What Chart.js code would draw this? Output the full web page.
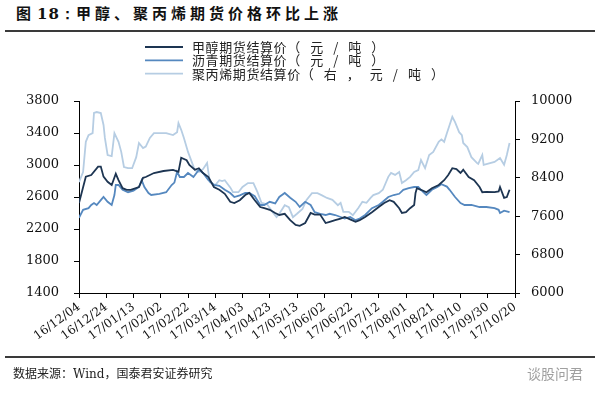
<!DOCTYPE html>
<html>
<head>
<meta charset="utf-8">
<script src="https://cdn.jsdelivr.net/npm/chart.js@4.4.0/dist/chart.umd.min.js"></script>
<style>
  html, body { margin: 0; padding: 0; background: #fff; }
  #wrap { position: relative; width: 600px; height: 396px; overflow: hidden; }
  #c { position: absolute; left: 0; top: 0; }
  .title { position: absolute; left: 16px; top: 2px; font-family: "Noto Sans CJK SC"; font-weight: bold; font-size: 15px; color: #111; white-space: nowrap; }
  .title .cn { letter-spacing: 4px; }
  .title .num { font-family: "DejaVu Serif"; letter-spacing: 1px; margin-left: 6px; }
  .rule { position: absolute; left: 5px; width: 590px; border-top: 2px solid #3a3a3a; }
  .src { position: absolute; left: 13px; top: 364px; font: 12px "Noto Sans CJK SC"; color: #222; white-space: nowrap; }
  .src .en { font-family: "DejaVu Serif"; }
  .mark { position: absolute; left: 527px; top: 363px; font: 14px "Noto Sans CJK SC"; color: #a0a0a0; }
</style>
</head>
<body>
<div id="wrap">
  <div class="title">图<span class="num">18：</span><span class="cn">甲醇、聚丙烯期货价格环比上涨</span></div>
  <div class="rule" style="top:30px"></div>
  <canvas id="c" width="600" height="396"></canvas>
  <div class="rule" style="top:356px"></div>
  <div class="src">数据来源：<span class="en">Wind</span>，国泰君安证券研究</div>
  <div class="mark">谈股问君</div>
</div>
<script>
// x = days since 16/12/04
const xTickLabels = ['16/12/04','16/12/24','17/01/13','17/02/02','17/02/22','17/03/14','17/04/03','17/04/23',
  '17/05/13','17/06/02','17/06/22','17/07/12','17/08/01','17/08/21','17/09/10','17/09/30','17/10/20'];

const seriesNames = ['甲醇期货结算价（元/吨）', '沥青期货结算价（元/吨）', '聚丙烯期货结算价（右，元/吨）'];

// 甲醇 (left axis)
const methDays = [0,5,9,14,16,18,21,24,27,29,32,35,38,44,47,49,55,62,69,73,75,79,81,85,88,91,95,99,103,107,
  111,114,118,122,125,129,133,136,140,144,147,151,155,159,162,166,170,173,177,181,184,188,192,195,199,203,206,210,215,220,
  224,228,231,235,237,240,243,246,247,248,251,255,259,264,268,271,274,277,280,282,286,290,294,296,299,305,308,309,312,314,316];
const methVals = [2525,2854,2875,2980,2980,2854,2790,2750,2890,2810,2710,2690,2690,2725,2840,2850,2900,2925,2940,2915,
  3090,3060,3000,2940,2960,2900,2850,2725,2690,2640,2540,2525,2560,2625,2650,2560,2475,2460,2440,2400,
  2375,2390,2310,2250,2240,2275,2400,2380,2380,2275,2290,2310,2330,2350,2320,2290,2310,2350,2410,2475,
  2525,2560,2540,2460,2400,2410,2460,2500,2650,2710,2690,2660,2710,2750,2810,2875,2960,2950,2900,2940,
  2850,2810,2725,2660,2665,2660,2670,2725,2590,2600,2690];

// 沥青 (left axis)
const bitDays = [0,3,7,9,11,13,16,18,21,24,26,27,29,32,36,40,44,46,48,51,53,59,64,68,70,72,74,77,80,84,
  88,91,95,99,103,107,111,114,118,122,125,129,133,136,140,144,147,151,155,159,162,166,170,173,177,181,184,188,192,195,
  199,203,206,210,215,220,223,227,231,235,238,242,246,249,251,255,259,263,266,270,272,276,280,283,288,294,299,305,308,309,312,316];
const bitVals = [2340,2440,2460,2500,2525,2500,2560,2600,2540,2500,2625,2750,2750,2690,2660,2680,2725,2810,2725,2650,
  2625,2640,2660,2750,2780,2915,2850,2850,2900,2850,2940,2900,2810,2750,2740,2690,2650,2600,2620,2650,
  2650,2610,2500,2500,2540,2520,2600,2650,2590,2540,2475,2540,2500,2410,2390,2375,2390,2375,2350,2330,
  2350,2310,2330,2375,2460,2500,2540,2600,2625,2640,2690,2710,2725,2725,2690,2625,2690,2725,2760,2730,
  2690,2600,2525,2500,2500,2475,2475,2460,2440,2400,2430,2410];

// 聚丙烯 (right axis)
const ppDays = [0,3,5,7,10,11,13,16,18,19,21,24,26,29,31,33,36,39,42,44,47,49,52,55,64,69,72,73,75,77,
  80,83,85,88,91,94,96,100,103,105,107,111,113,117,120,124,128,131,134,138,142,145,147,151,154,157,160,164,167,171,
  175,178,182,186,190,192,194,198,201,205,208,211,214,216,220,223,227,229,232,235,237,240,243,246,249,251,254,257,260,264,
  266,268,270,272,274,276,279,281,282,285,288,292,293,296,297,301,305,309,312,314,316];
const ppVals = [8310,8520,9150,9290,9330,9750,9770,9750,9500,9230,8875,8850,9330,9150,8940,8625,8600,8600,8830,9125,
  9020,9050,9230,9330,9330,9290,9350,9540,9400,9230,8940,8710,8560,8520,8580,8710,8310,8250,8350,8330,
  8350,8200,8100,8100,8210,8290,8290,8100,7875,7850,7690,7580,7650,7830,7790,7580,7650,7750,7940,8080,
  8080,8040,7980,7940,7830,7880,7690,7690,7620,7770,7900,7880,7980,8040,8080,8150,8420,8500,8460,8520,
  8290,8350,8420,8520,8560,8770,8600,8875,8940,9150,9200,9150,9330,9500,9670,9560,9350,9290,9125,9040,
  8830,8710,8690,8875,8670,8700,8730,8810,8670,8875,9125];

const colors = ['#1d3552', '#5588bf', '#b6cde3'];

function pts(days, vals) { return days.map((d, i) => ({ x: d, y: vals[i] })); }

// legend stacked in three rows above the plot; the unit part is spread wider like the original
const stackLegend = {
  id: 'stackLegend',
  afterDraw(chart) {
    const ctx = chart.ctx;
    ctx.save();
    ctx.textBaseline = 'middle';
    chart.data.datasets.forEach((ds, i) => {
      const y = 47 + i * 13.3;
      ctx.strokeStyle = ds.borderColor;
      ctx.lineWidth = 1.8;
      ctx.beginPath(); ctx.moveTo(145, y); ctx.lineTo(183, y); ctx.stroke();
      const cut = ds.label.indexOf('（');
      const main = ds.label.slice(0, cut), unit = ds.label.slice(cut);
      ctx.fillStyle = '#222';
      ctx.font = '13px "Noto Sans CJK SC"';
      ctx.letterSpacing = '0.6px';
      ctx.fillText(main, 192, y);
      const w = ctx.measureText(main).width;
      ctx.letterSpacing = '10px';
      ctx.fillText(unit, 192 + w, y);
    });
    ctx.restore();
  }
};

const axisFont = { family: 'DejaVu Serif', size: 13 };
const plain = v => String(v);

new Chart(document.getElementById('c'), {
  type: 'line',
  data: {
    datasets: [
      { label: seriesNames[0], data: pts(methDays, methVals), yAxisID: 'y', borderColor: colors[0] },
      { label: seriesNames[1], data: pts(bitDays, bitVals), yAxisID: 'y', borderColor: colors[1] },
      { label: seriesNames[2], data: pts(ppDays, ppVals), yAxisID: 'y1', borderColor: colors[2] }
    ]
  },
  options: {
    responsive: false,
    animation: false,
    layout: { padding: { top: 101, left: 0, right: 0, bottom: 0 } },
    elements: { point: { radius: 0 }, line: { borderWidth: 1.8, tension: 0 } },
    plugins: { legend: { display: false }, tooltip: { enabled: false } },
    scales: {
      x: {
        type: 'linear', min: 0, max: 320,
        border: { color: '#000', width: 1 },
        grid: { drawOnChartArea: false, color: '#000', tickLength: 5 },
        ticks: {
          stepSize: 20, autoSkip: false, minRotation: 36, maxRotation: 36, padding: 2,
          color: '#111', font: { family: 'DejaVu Serif', size: 12 },
          callback: v => xTickLabels[v / 20] ?? ''
        },
        afterFit: s => { s.height = 103; }
      },
      y: {
        position: 'left', min: 1400, max: 3800,
        border: { color: '#000', width: 1 },
        grid: { drawOnChartArea: false, color: '#000', tickLength: 5 },
        ticks: { stepSize: 400, padding: 15, color: '#111', font: axisFont, callback: plain },
        afterFit: s => { s.width = 79; }
      },
      y1: {
        position: 'right', min: 6000, max: 10000,
        border: { color: '#000', width: 1 },
        grid: { drawOnChartArea: false, color: '#000', tickLength: 5 },
        ticks: { stepSize: 800, padding: 11, color: '#111', font: axisFont, callback: plain },
        afterFit: s => { s.width = 85; }
      }
    }
  },
  plugins: [stackLegend]
});
</script>
</body>
</html>
